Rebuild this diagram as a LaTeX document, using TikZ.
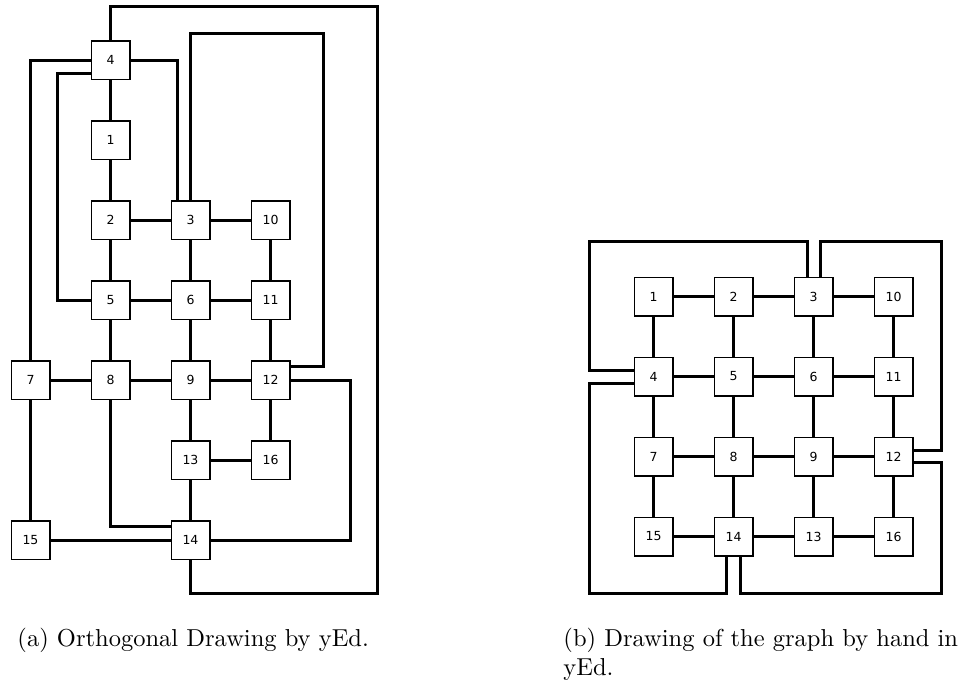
\documentclass[tikz,border=0pt]{standalone}
\usepackage{fontspec}
\newfontfamily\labfont{DejaVu Sans}
\usetikzlibrary{backgrounds,calc}
\begin{document}
\begin{tikzpicture}[x=1pt,y=-1pt,
  vbox/.style={draw=black, line width=1.5pt, fill=white, minimum size=38.5pt,
    inner sep=0pt, font=\labfont\fontsize{12.5}{14}\selectfont},
  wire/.style={line width=3pt, line join=miter},
  capt/.style={anchor=base west, inner sep=0pt, scale=2.45,
    font=\fontsize{10}{12}\selectfont}]
\useasboundingbox (0,0) rectangle (969,683);

% ---------- (a) orthogonal layout ----------
\node[vbox] (a4)  at (110.5,60)  {4};
\node[vbox] (a1)  at (110.5,140) {1};
\node[vbox] (a2)  at (110.5,220) {2};
\node[vbox] (a3)  at (190.5,220) {3};
\node[vbox] (a10) at (270.5,220) {10};
\node[vbox] (a5)  at (110.5,300) {5};
\node[vbox] (a6)  at (190.5,300) {6};
\node[vbox] (a11) at (270.5,300) {11};
\node[vbox] (a7)  at (30.5,380)  {7};
\node[vbox] (a8)  at (110.5,380) {8};
\node[vbox] (a9)  at (190.5,380) {9};
\node[vbox] (a12) at (270.5,380) {12};
\node[vbox] (a13) at (190.5,460) {13};
\node[vbox] (a16) at (270.5,460) {16};
\node[vbox] (a15) at (30.5,540)  {15};
\node[vbox] (a14) at (190.5,540) {14};

% ---------- (b) hand-made grid layout ----------
\node[vbox] (b1)  at (653.5,296.5) {1};
\node[vbox] (b2)  at (733.5,296.5) {2};
\node[vbox] (b3)  at (813.5,296.5) {3};
\node[vbox] (b10) at (893.5,296.5) {10};
\node[vbox] (b4)  at (653.5,376.5) {4};
\node[vbox] (b5)  at (733.5,376.5) {5};
\node[vbox] (b6)  at (813.5,376.5) {6};
\node[vbox] (b11) at (893.5,376.5) {11};
\node[vbox] (b7)  at (653.5,456.5) {7};
\node[vbox] (b8)  at (733.5,456.5) {8};
\node[vbox] (b9)  at (813.5,456.5) {9};
\node[vbox] (b12) at (893.5,456.5) {12};
\node[vbox] (b15) at (653.5,536.5) {15};
\node[vbox] (b14) at (733.5,536.5) {14};
\node[vbox] (b13) at (813.5,536.5) {13};
\node[vbox] (b16) at (893.5,536.5) {16};

\begin{pgfonlayer}{background}
  % straight edges of (a)
  \foreach \p/\q in {a4/a1, a1/a2, a2/a3, a3/a10, a2/a5, a3/a6, a10/a11,
      a5/a6, a6/a11, a5/a8, a6/a9, a11/a12, a7/a8, a8/a9, a9/a12, a9/a13,
      a12/a16, a13/a16, a13/a14, a7/a15, a15/a14}
    \draw[wire] (\p) -- (\q);
  % bent edges of (a)
  \draw[wire] (a4.north) |- (377.3,6.7) -- (377.3,593.3) -| (a14.south);
  \draw[wire] (a4.east) -| ($(a3.north)+(-13.2,0)$);
  \draw[wire] (a3.north) |- (323.3,33.3) |- ($(a12.east)+(0,-13.3)$);
  \draw[wire] (a4.west) -| (a7.north);
  \draw[wire] ($(a4.west)+(0,13.3)$) -| (57.3,300) -- (a5.west);
  \draw[wire] (a12.east) -| (350,540) -- (a14.east);
  \draw[wire] (a8.south) |- ($(a14.west)+(0,-13.3)$);

  % straight edges of (b)
  \foreach \p/\q in {b1/b2, b2/b3, b3/b10, b1/b4, b2/b5, b3/b6, b10/b11,
      b4/b5, b5/b6, b6/b11, b4/b7, b5/b8, b6/b9, b11/b12, b7/b8, b8/b9,
      b9/b12, b7/b15, b8/b14, b9/b13, b12/b16, b15/b14, b14/b13, b13/b16}
    \draw[wire] (\p) -- (\q);
  % edges of (b) routed around the grid
  \draw[wire] ($(b3.north)+(-6,0)$) |- (589.3,241.7) |- ($(b4.west)+(0,-6.5)$);
  \draw[wire] ($(b3.north)+(7,0)$) |- (941.7,241.7) |- ($(b12.east)+(0,-6)$);
  \draw[wire] ($(b4.west)+(0,6.8)$) -| (589.3,593.3) -| ($(b14.south)+(-6.8,0)$);
  \draw[wire] ($(b12.east)+(0,6.2)$) -| (941.7,593.3) -| ($(b14.south)+(6.5,0)$);
\end{pgfonlayer}

% ---------- captions ----------
\node[capt] (capa)  at (17,646)  {(a) Orthogonal Drawing by yEd.};
\node[capt] (capb1) at (563,646) {(b) Drawing of the graph by hand in};
\node[capt] (capb2) at (563,675) {yEd.};
\end{tikzpicture}
\end{document}
